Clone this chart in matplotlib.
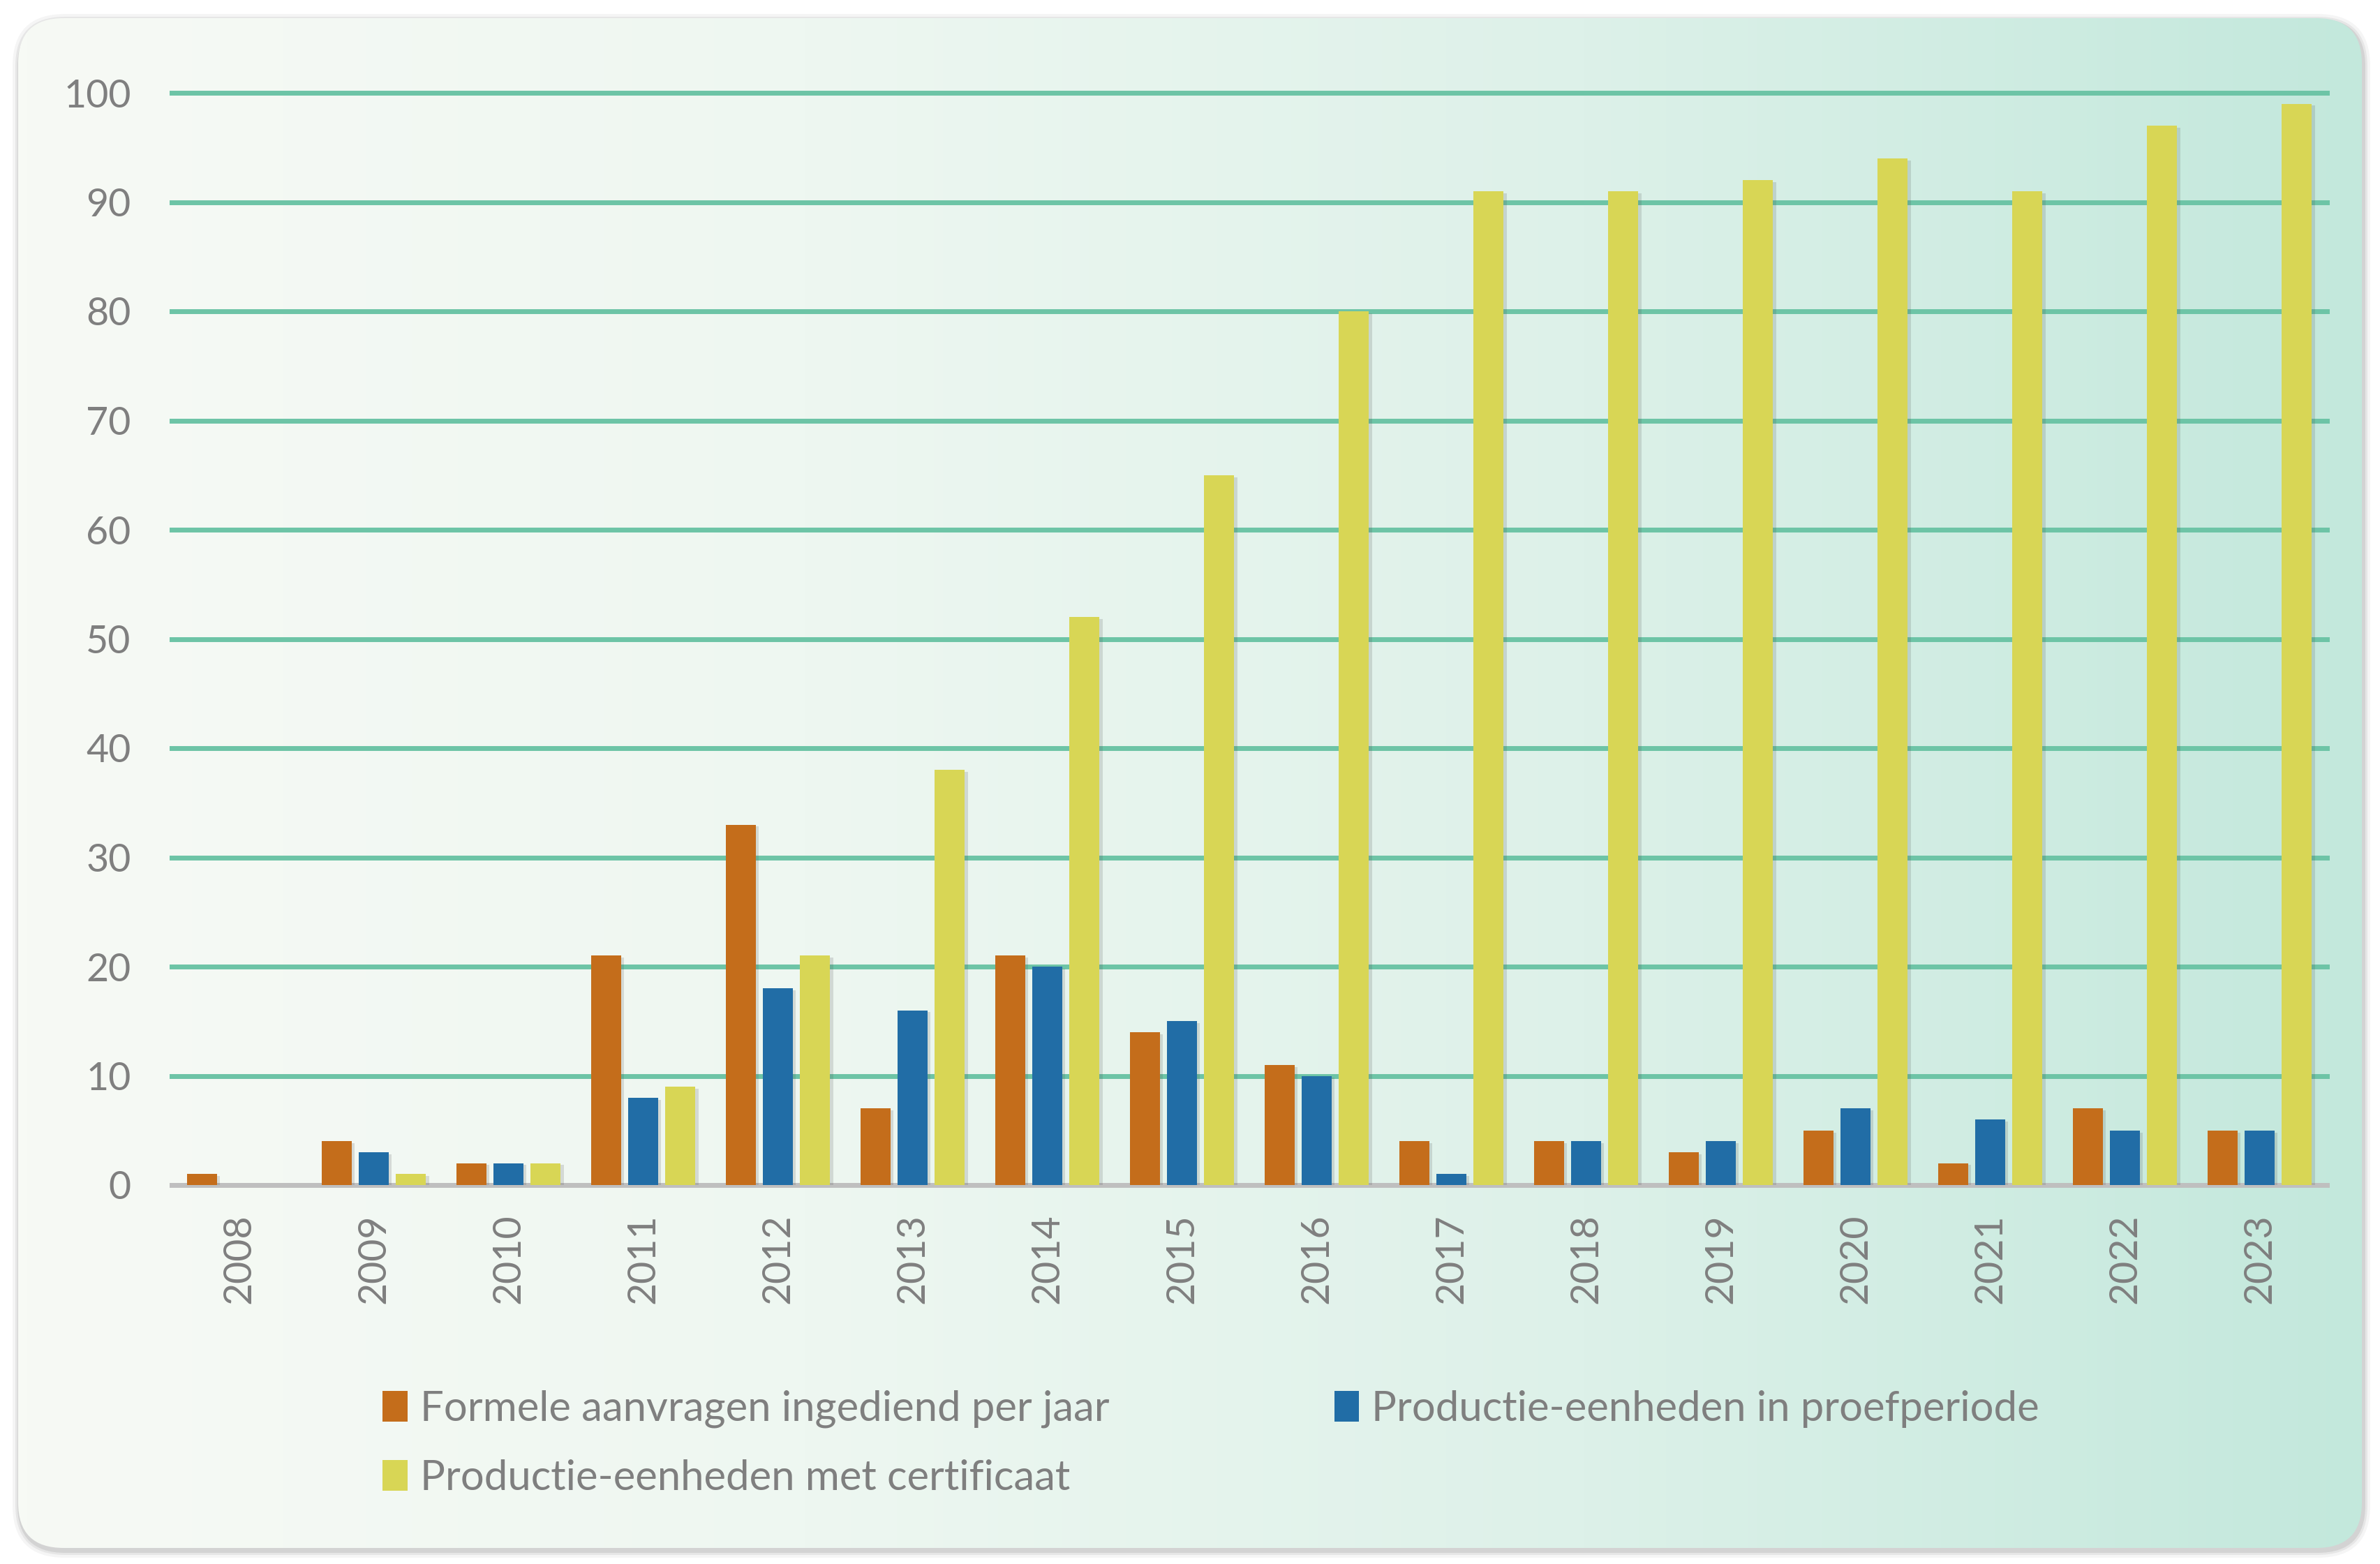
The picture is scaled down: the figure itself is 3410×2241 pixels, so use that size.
import numpy as np
import matplotlib
matplotlib.use("Agg")
import matplotlib.pyplot as plt
from matplotlib.patches import FancyBboxPatch, Patch
from matplotlib.colors import LinearSegmentedColormap
import matplotlib.patheffects as pe

# data
years = ['2008', '2009', '2010', '2011', '2012', '2013', '2014', '2015',
         '2016', '2017', '2018', '2019', '2020', '2021', '2022', '2023']
formele = [1, 4, 2, 21, 33, 7, 21, 14, 11, 4, 4, 3, 5, 2, 7, 5]
proef = [0, 3, 2, 8, 18, 16, 20, 15, 10, 1, 4, 4, 7, 6, 5, 5]
certificaat = [0, 1, 2, 9, 21, 38, 52, 65, 80, 91, 91, 92, 94, 91, 97, 99]
series_names = ['Formele aanvragen ingediend per jaar',
                'Productie-eenheden in proefperiode',
                'Productie-eenheden met certificaat']
yticks = [0, 10, 20, 30, 40, 50, 60, 70, 80, 90, 100]

colors = ['#C46D1B', '#216DA6', '#D8D655']
text_col = '#7F7F7F'
grid_col = '#6DC4A6'

plt.rcParams['font.family'] = ['Lato', 'DejaVu Sans']

W, H = 3410, 2241
fig = plt.figure(figsize=(W / 100, H / 100), dpi=100)
fig.patch.set_facecolor('white')

# background panel with rounded corners, shadow and gradient
bg = fig.add_axes([0, 0, 1, 1])
bg.set_xlim(0, W)
bg.set_ylim(H, 0)
bg.axis('off')
x0, y0, x1, y1 = 26, 26, 3384, 2218
for k, a in [(10, 0.04), (6, 0.06), (3, 0.08)]:
    sh = FancyBboxPatch((x0 - k + 2, y0 - k + 4), x1 - x0 + 2 * k, y1 - y0 + 2 * k,
                        boxstyle="round,pad=0,rounding_size=%d" % (65 + k),
                        fc='black', ec='none', alpha=a)
    bg.add_patch(sh)
panel = FancyBboxPatch((x0, y0), x1 - x0, y1 - y0,
                       boxstyle="round,pad=0,rounding_size=65",
                       fc='none', ec='none')
bg.add_patch(panel)
cmap = LinearSegmentedColormap.from_list('bgc', ['#F7FAF5', '#EEF7F1', '#DDF1E9', '#C3E8DC'])
grad = np.linspace(0, 1, 512).reshape(1, -1)
im = bg.imshow(grad, cmap=cmap, extent=[x0, x1, y1, y0], aspect='auto', zorder=1)
im.set_clip_path(panel)

# main chart
left, right, top, bottom = 246, 3334, 133, 1698
ax = fig.add_axes([left / W, 1 - bottom / H, (right - left) / W, (bottom - top) / H])
ax.set_facecolor('none')

x = np.arange(len(years))
bw = 0.225
step = 0.276
shadow = [pe.SimplePatchShadow(offset=(3, -2), shadow_rgbFace='#555555', alpha=0.18), pe.Normal()]
for i, (vals, c) in enumerate(zip([formele, proef, certificaat], colors)):
    bars = ax.bar(x + (i - 1) * step, vals, width=bw, color=c, zorder=3)
    for b in bars:
        b.set_path_effects(shadow)

for t in yticks[1:]:
    ax.axhline(t, color=grid_col, lw=5, zorder=1, clip_on=False)
ax.axhline(0, color='#BFBFBF', lw=5, zorder=2, clip_on=False)

ax.set_xlim(-0.5, len(years) - 0.5)
ax.set_ylim(0, 100)
ax.set_yticks(yticks)
ax.set_yticklabels([str(t) for t in yticks])
ax.set_xticks(x)
ax.set_xticklabels(years, rotation=90)
ax.tick_params(axis='y', length=0, pad=42, labelsize=40, labelcolor=text_col)
ax.tick_params(axis='x', length=0, pad=30, labelsize=40, labelcolor=text_col)
for s in ax.spines.values():
    s.set_visible(False)

handles = [Patch(fc=colors[0]), Patch(fc=colors[2]), Patch(fc=colors[1])]
labels = [series_names[0], series_names[2], series_names[1]]
leg = fig.legend(handles, labels, ncol=2, loc='upper left',
                 bbox_to_anchor=(494 / W, 1 - 1938 / H), frameon=False,
                 fontsize=43, labelcolor=text_col, handlelength=0.6, handleheight=0.75,
                 handletextpad=0.3, columnspacing=5.4, labelspacing=0.75)

fig.savefig('out.png', dpi=100, facecolor='white')
